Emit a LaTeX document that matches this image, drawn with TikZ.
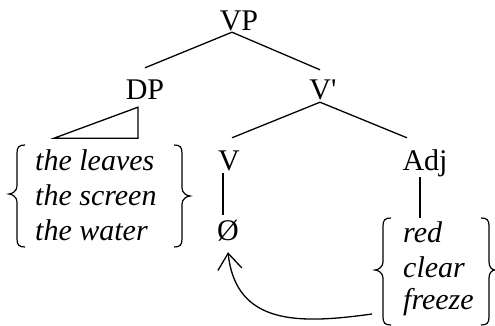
\documentclass[tikz,border=0pt]{standalone}
\usepackage{fontspec}
\setmainfont{Liberation Serif}
\usetikzlibrary{arrows.meta}

% curly brace: stem x, tip x, top y, middle y, bottom y, hook direction (+1 right, -1 left)
\newcommand\curlybrace[6]{%
  \draw[bracestroke] (#1+8*#6,#3) .. controls (#1+2*#6,#3) and (#1,#3+2) .. (#1,#3+8)
    -- (#1,#4-8) .. controls (#1,#4-3) and (#2+3*#6,#4) .. (#2,#4)
    .. controls (#2+3*#6,#4) and (#1,#4+3) .. (#1,#4+8)
    -- (#1,#5-8) .. controls (#1,#5-2) and (#1+2*#6,#5) .. (#1+8*#6,#5);}

\tikzset{
  treelabel/.style={anchor=base, inner sep=0pt, text height=21pt, text depth=0pt,
    font=\fontsize{30}{34}\selectfont},
  wordlabel/.style={anchor=base west, inner sep=0pt,
    font=\fontsize{30}{34}\selectfont\itshape},
  branch/.style={line width=1.3pt},
  bracestroke/.style={line width=1.2pt},
  movement/.style={line width=1.3pt, -{Straight Barb[length=16pt,width=24pt,line width=1.3pt]}}
}

\begin{document}
\begin{tikzpicture}[x=1pt, y=-1pt]
  \useasboundingbox (0,0) rectangle (495,326);

  % tree labels
  \node[treelabel] (vp)   at (239,31)  {VP};
  \node[treelabel] (dp)   at (145,100) {DP};
  \node[treelabel] (vbar) at (323,100) {V\textquotesingle};
  \node[treelabel] (v)    at (229,170) {V};
  \node[treelabel] (adj)  at (425,170) {Adj};
  \node[treelabel] (zero) at (228,240) {Ø};

  % word lists
  \node[wordlabel] (dp1) at (35,170) {the leaves};
  \node[wordlabel] (dp2) at (35,205) {the screen};
  \node[wordlabel] (dp3) at (35,240) {the water};
  \node[wordlabel] (aj1) at (403,242) {red};
  \node[wordlabel] (aj2) at (403,277) {clear};
  \node[wordlabel] (aj3) at (403,309) {freeze};

  % branches
  \draw[branch] ([xshift=-7pt,yshift=-1pt]vp.south) -- ([yshift=11pt]dp.north);
  \draw[branch] ([xshift=-7pt,yshift=-1pt]vp.south) -- ([xshift=-3pt,yshift=9pt]vbar.north);
  \draw[branch] ([xshift=-3pt,yshift=-2pt]vbar.south) -- ([xshift=3pt,yshift=11pt]v.north);
  \draw[branch] ([xshift=-3pt,yshift=-2pt]vbar.south) -- ([xshift=-18pt,yshift=11pt]adj.north);
  \draw[branch] ([xshift=-6pt,yshift=-3pt]v.south) -- ([xshift=-5pt,yshift=4pt]zero.north);
  \draw[branch] ([xshift=-5pt,yshift=-7pt]adj.south) -- ([xshift=-5pt,yshift=-48pt]adj.south);

  % triangle under DP
  \draw[branch] ([xshift=-7pt,yshift=-7pt]dp.south) -- ([xshift=-7pt,yshift=-38pt]dp.south)
    -- ([xshift=-91pt,yshift=-38pt]dp.south) -- cycle;

  % braces round the word lists
  \curlybrace{17}{9}{145}{194}{247}{1}
  \curlybrace{182}{190}{145}{196}{247}{-1}
  \curlybrace{383}{375}{218}{270}{325}{1}
  \curlybrace{489}{495}{218}{270}{325}{-1}

  % movement arrow
  \draw[movement] ([xshift=-31pt,yshift=-5pt]aj3.base west)
    .. controls (300,324) and (236,326) .. ([yshift=-12pt]zero.south);
\end{tikzpicture}
\end{document}
